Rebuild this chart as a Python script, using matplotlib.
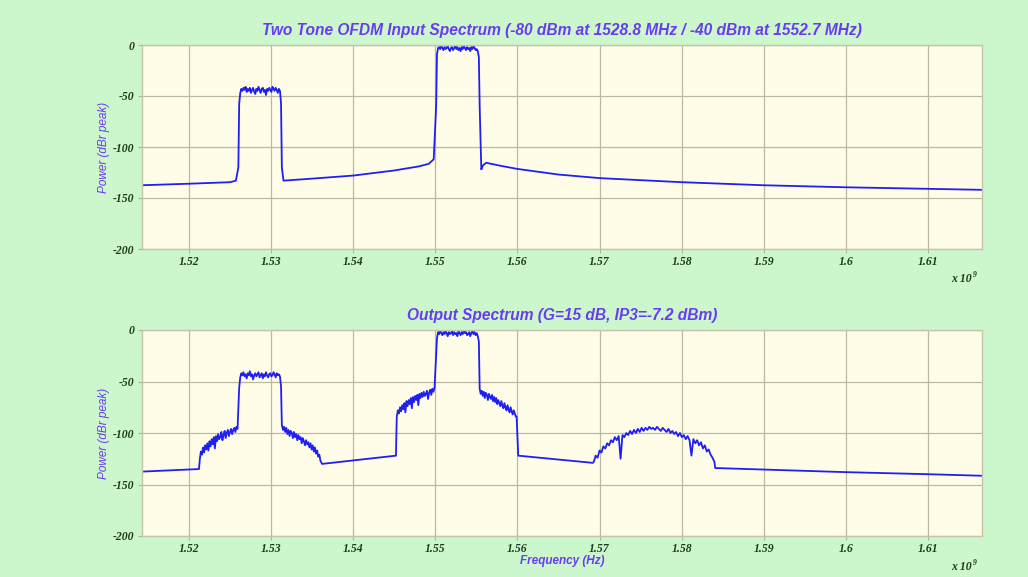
import numpy as np
import matplotlib
matplotlib.use("Agg")
import matplotlib.pyplot as plt

plt.rcParams["axes.unicode_minus"] = False

# frequency axis in GHz (tick labels shown with the x 10^9 multiplier)
f_lo, f_hi = 1.5142, 1.6166

# ---------- input spectrum ----------
in_floor1_f = [1.5142, 1.5200, 1.5250, 1.5257, 1.5260]
in_floor1_p = [-137.5, -136.0, -134.5, -133.0, -120.0]

tone1_start, tone1_stop = 1.5261, 1.5312
in_tone1_p = [-58, -47, -43, -45, -42, -44, -41, -46, -43, -45, -42, -47, -44, -42,
              -46, -48, -43, -45, -41, -44, -47, -43, -42, -46, -44, -49, -43, -45,
              -42, -44, -46, -41, -43, -45, -42, -44, -47, -43, -45, -57]

in_floor2_f = [1.5313, 1.5315, 1.5350, 1.5400, 1.5450, 1.5480, 1.5492, 1.5498, 1.5501]
in_floor2_p = [-120.0, -133.0, -131.0, -128.0, -123.0, -119.0, -116.5, -112.0, -60.0]

tone2_start, tone2_stop = 1.5502, 1.5553
in_tone2_p = [-9, -3, -2, -4, -1, -3, -5, -2, -4, -3, -1, -4, -6, -3, -2, -5, -3, -1,
              -4, -2, -5, -3, -6, -2, -4, -1, -3, -5, -2, -4, -3, -6, -2, -4, -1, -3,
              -5, -4, -6, -12]

in_floor3_f = [1.5554, 1.5556, 1.5558, 1.5562, 1.5580, 1.5600, 1.5650, 1.5700, 1.5800,
               1.5900, 1.6000, 1.6100, 1.6166]
in_floor3_p = [-60.0, -122.0, -118.0, -115.5, -118.5, -121.5, -127.0, -130.5, -134.5,
               -137.5, -139.5, -141.0, -142.0]

# ---------- output spectrum ----------
out_floor1_f = [1.5142, 1.5212]
out_floor1_p = [-137.5, -135.0]

regrowth1_lo = (1.5213, 1.5259)
out_regrowth1_lo_p = [-126, -118, -121, -114, -119, -112, -116, -110, -117, -108, -113,
                      -106, -111, -104, -115, -103, -108, -101, -106, -104, -99, -107,
                      -102, -98, -105, -100, -97, -103, -99, -96, -101, -97, -95, -99,
                      -94, -96]

out_tone1_p = [-56, -46, -42, -44, -41, -45, -43, -47, -42, -44, -40, -45, -43, -48,
               -44, -42, -45, -43, -41, -46, -44, -42, -47, -43, -45, -41, -44, -46,
               -43, -42, -45, -44, -41, -43, -46, -42, -44, -43, -45, -55]

regrowth1_hi = (1.5313, 1.5360)
out_regrowth1_hi_p = [-92, -97, -94, -99, -95, -101, -97, -103, -98, -100, -105, -99,
                      -104, -101, -107, -102, -106, -104, -110, -105, -108, -112, -107,
                      -111, -109, -114, -110, -116, -112, -118, -114, -120, -117, -123,
                      -121, -127]

out_floor2_f = [1.5362, 1.5452]
out_floor2_p = [-130.0, -122.0]

regrowth2_lo = (1.5453, 1.5499)
out_regrowth2_lo_p = [-84, -78, -81, -75, -79, -73, -77, -71, -80, -69, -74, -68, -72,
                      -66, -76, -65, -70, -64, -68, -63, -73, -62, -66, -61, -65, -60,
                      -64, -62, -59, -67, -61, -58, -63, -57, -60, -56]

out_tone2_p = [-8, -2, -4, -1, -3, -5, -2, -4, -1, -3, -6, -2, -4, -3, -1, -5, -2, -4,
               -3, -6, -1, -3, -5, -2, -4, -1, -3, -2, -5, -4, -2, -6, -3, -1, -4, -2,
               -5, -3, -6, -11]

regrowth2_hi = (1.5554, 1.5598)
out_regrowth2_hi_p = [-57, -62, -59, -64, -60, -66, -61, -63, -68, -62, -65, -67, -63,
                      -69, -65, -70, -66, -72, -68, -71, -74, -69, -73, -76, -71, -75,
                      -78, -73, -77, -80, -75, -79, -82, -78, -81, -84]

out_floor3_f = [1.5599, 1.5601, 1.5692]
out_floor3_p = [-84.0, -122.0, -129.0]

# third order intermod product at 2*f2 - f1
im3_band = (1.5693, 1.5840)
out_im3_p = [-128, -122, -124, -117, -119, -113, -115, -110, -112, -107, -109, -104,
             -107, -103, -125, -102, -104, -100, -102, -98, -101, -97, -100, -96, -99,
             -95, -98, -95, -97, -94, -96, -95, -97, -94, -96, -98, -95, -97, -99,
             -96, -100, -98, -101, -99, -103, -100, -104, -102, -106, -103, -107,
             -122, -106, -110, -107, -112, -109, -115, -112, -118, -116, -121, -124,
             -128]

out_floor4_f = [1.5841, 1.5900, 1.6000, 1.6100, 1.6166]
out_floor4_p = [-134.0, -135.5, -138.0, -140.0, -141.5]


def band(lims, vals):
    """spread a list of band levels evenly over its frequency span"""
    return np.linspace(lims[0], lims[1], len(vals)), np.array(vals, dtype=float)


def join(*pieces):
    f = np.concatenate([np.asarray(p[0], dtype=float) for p in pieces])
    p = np.concatenate([np.asarray(p[1], dtype=float) for p in pieces])
    return f, p


tone1 = (tone1_start, tone1_stop)
tone2 = (tone2_start, tone2_stop)

in_f, in_p = join((in_floor1_f, in_floor1_p), band(tone1, in_tone1_p),
                  (in_floor2_f, in_floor2_p), band(tone2, in_tone2_p),
                  (in_floor3_f, in_floor3_p))

out_f, out_p = join((out_floor1_f, out_floor1_p),
                    band(regrowth1_lo, out_regrowth1_lo_p),
                    band(tone1, out_tone1_p),
                    band(regrowth1_hi, out_regrowth1_hi_p),
                    (out_floor2_f, out_floor2_p),
                    band(regrowth2_lo, out_regrowth2_lo_p),
                    band(tone2, out_tone2_p),
                    band(regrowth2_hi, out_regrowth2_hi_p),
                    (out_floor3_f, out_floor3_p),
                    band(im3_band, out_im3_p),
                    (out_floor4_f, out_floor4_p))

xticks = [1.52, 1.53, 1.54, 1.55, 1.56, 1.57, 1.58, 1.59, 1.60, 1.61]
xtick_labels = ["1.52", "1.53", "1.54", "1.55", "1.56", "1.57", "1.58", "1.59", "1.6", "1.61"]
yticks = [-200, -150, -100, -50, 0]

titles = ["Two Tone OFDM Input Spectrum (-80 dBm at 1528.8 MHz / -40 dBm at 1552.7 MHz)",
          "Output Spectrum (G=15 dB, IP3=-7.2 dBm)"]

bg = "#ccf7cc"
face = "#fffde8"
purple = "#6a3cf0"
line_col = "#1f1ff2"
tick_col = "#1e3a1e"

fig = plt.figure(figsize=(10.28, 5.77), dpi=100, facecolor=bg)
W, H = 1028, 577
# axes boxes in pixels: left, top, right, bottom
boxes = [(141.5, 45, 982, 249), (141.5, 330, 982, 536)]

for i, ((l, t, r, b), (f, p)) in enumerate(zip(boxes, [(in_f, in_p), (out_f, out_p)])):
    ax = fig.add_axes([l / W, 1 - b / H, (r - l) / W, (b - t) / H], facecolor=face)
    ax.plot(f, p, color=line_col, lw=1.3)
    ax.set_xlim(f_lo, f_hi)
    ax.set_ylim(-200, 0)
    ax.set_xticks(xticks)
    ax.set_xticklabels(xtick_labels)
    ax.set_yticks(yticks)
    ax.grid(True, color="#bdb8a0", lw=0.9)
    ax.set_axisbelow(True)
    for s in ax.spines.values():
        s.set_color("#c4c4ae")
        s.set_linewidth(1.0)
    ax.tick_params(length=3, color="#b0b0a0", labelsize=8.5, labelcolor=tick_col, pad=2)
    for lab in ax.get_xticklabels() + ax.get_yticklabels():
        lab.set_family("Liberation Serif")
        lab.set_style("italic")
        lab.set_weight("bold")
    ax.set_ylabel("Power (dBr peak)", color=purple, fontsize=8.5, style="italic",
                  family="Liberation Sans", labelpad=2)
    ax.set_title(titles[i], color=purple, fontsize=11.2, style="italic", weight="bold",
                 family="Liberation Sans", pad=7)
    # x 10^9 multiplier under the right end of the axis
    ax.text(0.988, -0.12, "x 10", transform=ax.transAxes, ha="right", va="top",
            fontsize=8.5, style="italic", weight="bold", family="Liberation Serif",
            color=tick_col)
    ax.text(0.989, -0.11, "9", transform=ax.transAxes, ha="left", va="top",
            fontsize=5.5, style="italic", weight="bold", family="Liberation Serif",
            color=tick_col)
    if i == 1:
        ax.set_xlabel("Frequency (Hz)", color=purple, fontsize=8.5, style="italic",
                      weight="bold", family="Liberation Sans", labelpad=0)

fig.savefig("out.png", dpi=100, facecolor=bg)
